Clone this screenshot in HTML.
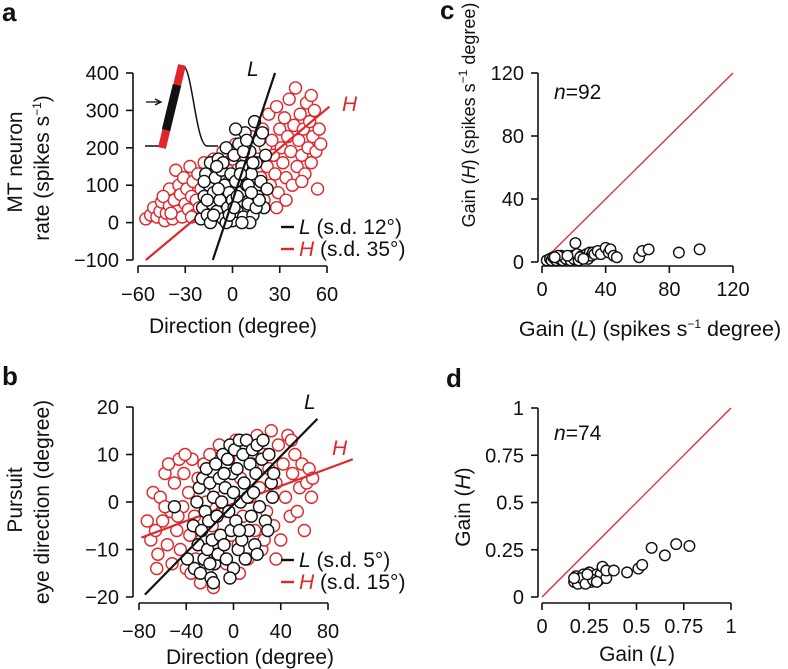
<!DOCTYPE html>
<html><head><meta charset="utf-8"><style>
html,body{margin:0;padding:0;background:#fff;}
svg{display:block;font-family:"Liberation Sans",Arial,sans-serif;}
</style></head><body>
<svg id="fig" width="788" height="669" viewBox="0 0 788 669" xmlns="http://www.w3.org/2000/svg"></svg>
<script>
// ---------- data ----------
const aTicksX=[-60,-30,0,30,60];
const aTicksY=[-100,0,100,200,300,400];
const aRed=[[-55,10],[-52,20],[-50,40],[-48,15],[-46,30],[-45,55],[-43,5],[-42,25],[-40,45],[-40,90],[-38,10],[-37,60],[-36,140],[-35,30],[-34,100],[-33,75],[-32,15],[-31,120],[-30,50],[-29,90],[-28,35],[-27,150],[-26,70],[-25,110],[-24,20],[-23,60],[-22,130],[-21,40],[-20,90],[-18,160],[-17,55],[-15,115],[-13,30],[-12,170],[-10,80],[-8,130],[-6,190],[-5,50],[-3,140],[-1,100],[0,170],[2,210],[4,120],[6,60],[8,180],[10,140],[12,230],[14,90],[15,40],[16,170],[18,120],[19,250],[20,60],[21,200],[22,150],[23,290],[24,100],[25,220],[26,180],[27,130],[28,310],[29,80],[30,250],[31,200],[32,160],[33,280],[34,120],[35,230],[36,330],[37,190],[38,100],[39,260],[40,360],[41,150],[42,220],[43,290],[44,180],[45,250],[46,130],[47,320],[48,200],[49,270],[50,340],[50,160],[51,230],[52,300],[53,190],[54,90],[55,250],[56,210],[-44,70],[-39,25],[-26,15],[-16,10],[34,60],[44,110],[28,40]];
const aBlack=[[-20,10],[-19,40],[-18,70],[-17,130],[-16,20],[-15,100],[-14,160],[-13,50],[-12,80],[-11,120],[-10,30],[-9,170],[-8,60],[-7,140],[-6,10],[-5,100],[-4,200],[-3,40],[-2,80],[-1,130],[0,5],[0,60],[1,180],[2,110],[3,30],[4,210],[5,80],[6,150],[7,15],[8,240],[9,100],[10,50],[11,190],[12,130],[13,20],[14,270],[15,160],[16,70],[17,220],[18,110],[19,240],[20,40],[21,180],[22,90],[-18,110],[-14,0],[-9,90],[-4,0],[3,70],[7,190],[11,0],[15,40],[-6,160],[-2,20],[5,130],[9,220],[13,160],[17,60],[-12,20],[1,40],[10,100],[6,0],[-16,60],[-10,150],[2,250],[12,80]];
const aLineL=[[-12.5,-100],[27,400]];
const aLineH=[[-55,-100],[61.5,310]];

const bTicksX=[-80,-40,0,40,80];
const bTicksY=[-20,-10,0,10,20];
const bRed=[[-73,-4],[-70,-8],[-68,2],[-66,-6],[-64,-11],[-62,1],[-60,-4],[-58,6],[-56,-9],[-55,8],[-53,-2],[-52,-13],[-50,4],[-48,-6],[-46,9],[-45,-10],[-43,-1],[-42,6],[-40,-14],[-38,2],[-37,-7],[-35,9],[-33,-3],[-32,-12],[-30,5],[-28,-17],[-27,-8],[-25,8],[-23,0],[-22,-14],[-20,10],[-18,-5],[-16,3],[-14,-11],[-12,12],[-10,-2],[-8,6],[-6,-13],[-4,9],[-2,-7],[0,2],[2,13],[4,-9],[6,5],[8,-3],[10,11],[12,-12],[14,1],[16,8],[18,-6],[20,14],[22,3],[24,-10],[26,10],[28,-2],[30,7],[32,15],[34,-5],[36,4],[38,12],[40,-8],[42,8],[44,1],[46,14],[48,-3],[50,6],[52,10],[54,-2],[56,3],[58,8],[60,-6],[62,4],[64,7],[66,1],[67,5],[-65,-14],[-47,-3],[-36,-15],[-17,-18],[5,-15],[36,-12],[49,13],[-58,-1],[-41,10],[26,-8]];
const bBlack=[[-34,-5],[-33,-14],[-31,0],[-30,-9],[-29,3],[-28,-15],[-27,-6],[-26,5],[-25,-12],[-24,-2],[-23,7],[-22,-10],[-21,-4],[-20,4],[-19,-16],[-18,-8],[-17,1],[-16,-13],[-15,8],[-14,-3],[-13,-11],[-12,5],[-11,-7],[-10,0],[-9,10],[-8,-9],[-7,3],[-6,-12],[-5,9],[-4,-2],[-3,12],[-2,-6],[-1,6],[0,-14],[0,2],[1,11],[2,-4],[3,7],[4,-10],[5,13],[6,0],[7,-8],[8,10],[9,4],[10,-12],[11,13],[12,1],[13,-6],[14,8],[15,-3],[16,11],[17,2],[18,-9],[19,6],[20,12],[22,-1],[24,9],[25,13],[27,-4],[29,-6],[30,10],[32,4],[33,1],[34,6],[-50,-1],[-39,-12],[-17,-17],[-3,-16],[20,-11],[-20,-13],[5,-6],[-8,6]];
const bLineL=[[-75,-19.5],[71,17.5]];
const bLineH=[[-78,-7.5],[101,9]];

const cTicks=[0,40,80,120];
const cPts=[[3,1],[5,2],[6,1],[7,3],[8,2],[9,1],[10,3],[11,2],[12,4],[13,1],[14,3],[15,2],[17,3],[18,1],[19,4],[20,2],[21,12],[22,5],[23,1],[25,4],[27,3],[28,5],[29,2],[30,6],[31,4],[32,6],[33,5],[35,7],[37,5],[40,9],[42,6],[43,8],[45,4],[47,3],[61,3],[63,7],[67,8],[86,6],[99,8],[10,4],[8,3],[16,4],[24,3],[26,2]];
const dTicks=[0,0.25,0.5,0.75,1];
const dTickLabels=["0","0.25","0.5","0.75","1"];
const dPts=[[0.17,0.08],[0.18,0.11],[0.19,0.09],[0.2,0.1],[0.21,0.08],[0.22,0.12],[0.23,0.09],[0.24,0.1],[0.25,0.13],[0.26,0.08],[0.27,0.11],[0.28,0.1],[0.29,0.12],[0.3,0.09],[0.31,0.12],[0.32,0.16],[0.34,0.1],[0.34,0.14],[0.38,0.14],[0.45,0.13],[0.51,0.15],[0.53,0.17],[0.58,0.26],[0.65,0.22],[0.71,0.28],[0.78,0.27],[0.19,0.07],[0.21,0.1],[0.23,0.07],[0.27,0.09],[0.17,0.1],[0.29,0.08],[0.24,0.12]];

// ---------- helpers ----------
const NS="http://www.w3.org/2000/svg";
const svg=document.getElementById('fig');
const RED="#e0262b";
const FS=20;
function el(tag,attrs,parent){const e=document.createElementNS(NS,tag);for(const k in attrs)e.setAttribute(k,attrs[k]);(parent||svg).appendChild(e);return e;}
function lin(d0,d1,r0,r1){return v=>r0+(v-d0)/(d1-d0)*(r1-r0);}
function txt(s,x,y,o,parent){const t=el('text',Object.assign({x:x,y:y,'font-size':FS,fill:'#111'},o||{}),parent);t.innerHTML=s;return t;}

function axes(g,sx,sy,xt,yt,xLab,yLab,xAxisY,yAxisX,xOff){
  const xa=el('g',{},g);
  
  
  el('line',{x1:sx(xt[0]),x2:sx(xt[xt.length-1]),y1:xAxisY,y2:xAxisY,stroke:'#111','stroke-width':1.6},xa);
  xt.forEach((v,i)=>{el('line',{x1:sx(v),x2:sx(v),y1:xAxisY,y2:xAxisY+7,stroke:'#111','stroke-width':1.6},xa);
    const t=txt(xLab?xLab[i]:String(v).replace('-','\u2212'),sx(v),xAxisY+xOff,{'text-anchor':'middle'},xa);
    });
  const ya=el('g',{},g);
  
  
  el('line',{x1:yAxisX,x2:yAxisX,y1:sy(yt[0]),y2:sy(yt[yt.length-1]),stroke:'#111','stroke-width':1.6},ya);
  yt.forEach((v,i)=>{el('line',{x1:yAxisX,x2:yAxisX-7,y1:sy(v),y2:sy(v),stroke:'#111','stroke-width':1.6},ya);
    const t=txt(yLab?yLab[i]:String(v).replace('-','\u2212'),yAxisX-14,sy(v)+7,{'text-anchor':'end'},ya);
    });
}
function pts(g,data,sx,sy,r,color,name){
  data.forEach(p=>{const c=el('circle',{cx:sx(p[0]),cy:sy(p[1]),r:r,fill:'#fff',stroke:color,'stroke-width':1.4},g);
    
    });
}
function fitLine(g,ln,sx,sy,color,name){
  const l=el('line',{x1:sx(ln[0][0]),y1:sy(ln[0][1]),x2:sx(ln[1][0]),y2:sy(ln[1][1]),stroke:color,'stroke-width':2.2},g);
  
  
}
function panelLabel(s,x,y){const t=txt(s,x,y,{'font-size':26,'font-weight':'bold'});
  }
function rotTitle(s,cx,cy,name,fs){const t=txt(s,cx,cy,{'text-anchor':'middle','font-size':fs||FS,transform:`rotate(-90 ${cx} ${cy})`});
  }
function title(s,cx,cy,name,fs){const t=txt(s,cx,cy,{'text-anchor':'middle','font-size':fs||FS});
  }
function legend(g,y,color,lab,sd){
  const lg=el('g',{},g);
  
  
  el('line',{x1:281,x2:294,y1:y-7,y2:y-7,stroke:color,'stroke-width':2.4},lg);
  txt(`<tspan font-style="italic" fill="${color}">${lab}</tspan> (s.d. ${sd}°)`,299,y,{'font-size':21},lg);
}
function sup(){return '<tspan font-size="12" dy="-8">−1</tspan>';}

// ---------- panel a ----------
panelLabel('a',2,21);
const ga=el('g',{});


const axX=lin(-60,60,138,327), axY=lin(-100,400,260,73);
pts(ga,aRed,axX,axY,6,RED,'point-h');
fitLine(ga,aLineH,axX,axY,RED,'fit-line-h');
pts(ga,aBlack,axX,axY,6,'#111','point-l');
fitLine(ga,aLineL,axX,axY,'#111','fit-line-l');
axes(ga,axX,axY,aTicksX,aTicksY,null,null,266,133,35);
txt('L',247,76,{'font-style':'italic','font-size':21},ga);
txt('H',342,111,{'font-style':'italic','font-size':21,fill:RED},ga);
legend(ga,234,'#111','L','12');
legend(ga,256,RED,'H','35');
rotTitle('MT neuron',22,162,'y-axis-title-a',21);
rotTitle('rate (spikes s'+sup()+'<tspan dy="8">)</tspan>',49,168,'y-axis-title-a2',21);
title('Direction (degree)',233,333,'x-axis-title-a',21);
// inset
const ins=el('g',{});


el('path',{d:'M145 146 L160 146 C172 146 174 66 183 66 C192 66 196 146 207 146 L218 146',fill:'none',stroke:'#111','stroke-width':1.5},ins);
el('line',{x1:162,y1:148,x2:182,y2:65,stroke:RED,'stroke-width':8},ins);
el('line',{x1:166,y1:130,x2:177,y2:85,stroke:'#111','stroke-width':8.5},ins);
el('line',{x1:146,y1:102,x2:160,y2:102,stroke:'#111','stroke-width':1.3},ins);
el('path',{d:'M155 99 L161 102 L155 105',fill:'none',stroke:'#111','stroke-width':1.3},ins);

// ---------- panel b ----------
panelLabel('b',2,385);
const gb=el('g',{});


const bxX=lin(-80,80,139,328), bxY=lin(-20,20,597,407);
pts(gb,bRed,bxX,bxY,6,RED,'point-h');
fitLine(gb,bLineH,bxX,bxY,RED,'fit-line-h');
pts(gb,bBlack,bxX,bxY,6,'#111','point-l');
fitLine(gb,bLineL,bxX,bxY,'#111','fit-line-l');
axes(gb,bxX,bxY,bTicksX,bTicksY,null,null,603,133,35);
txt('L',304,409,{'font-style':'italic','font-size':21},gb);
txt('H',332,455,{'font-style':'italic','font-size':21,fill:RED},gb);
legend(gb,567,'#111','L','5');
legend(gb,589,RED,'H','15');
rotTitle('Pursuit',22,500,'y-axis-title-b',21);
rotTitle('eye direction (degree)',49,502,'y-axis-title-b2',21);
title('Direction (degree)',250,664,'x-axis-title-b',21);

// ---------- panel c ----------
panelLabel('c',440,19);
const gc=el('g',{});


const cxX=lin(0,120,542,733), cxY=lin(0,120,262,73);
el('line',{x1:cxX(0),y1:cxY(0),x2:cxX(120),y2:cxY(120),stroke:RED,'stroke-width':1.3},gc);
pts(gc,cPts,cxX,cxY,5.3,'#111','neuron-point');
axes(gc,cxX,cxY,cTicks,cTicks,null,null,266,538,30);
txt('<tspan font-style="italic">n</tspan>=92',554,99,{'font-size':21},gc);
rotTitle('Gain (<tspan font-style="italic">H</tspan>) (spikes s'+sup()+'<tspan dy="8"> degree)</tspan>',475,115,'y-axis-title-c',18);
title('Gain (<tspan font-style="italic">L</tspan>) (spikes s'+sup()+'<tspan dy="8"> degree)</tspan>',650,336,'x-axis-title-c',21.5);

// ---------- panel d ----------
panelLabel('d',446,387);
const gd=el('g',{});


const dxX=lin(0,1,542,731), dxY=lin(0,1,597,408);
el('line',{x1:dxX(0),y1:dxY(0),x2:dxX(1),y2:dxY(1),stroke:RED,'stroke-width':1.3},gd);
pts(gd,dPts,dxX,dxY,5.3,'#111','neuron-point');
axes(gd,dxX,dxY,dTicks,dTicks,dTickLabels,dTickLabels,603,538,30);
txt('<tspan font-style="italic">n</tspan>=74',554,440,{'font-size':21},gd);
rotTitle('Gain (<tspan font-style="italic">H</tspan>)',470,507,'y-axis-title-d',21);
title('Gain (<tspan font-style="italic">L</tspan>)',637,661,'x-axis-title-d',21);
</script>
</body></html>
